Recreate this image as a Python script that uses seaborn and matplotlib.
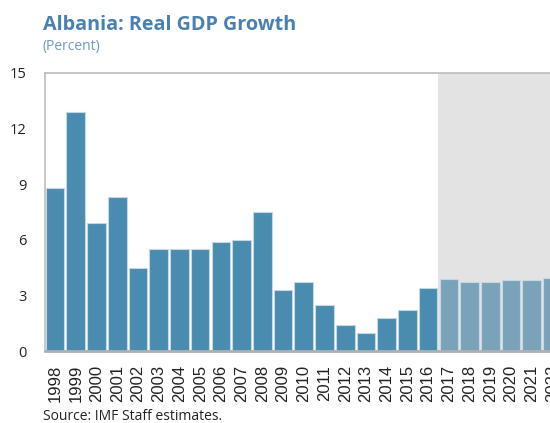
import matplotlib
matplotlib.use("Agg")
import matplotlib.pyplot as plt
import seaborn as sns
import pandas as pd

# Real GDP growth, percent
years = [str(y) for y in range(1998, 2023)]
growth = [8.8, 12.9, 6.9, 8.3, 4.5, 5.5, 5.5, 5.5, 5.9, 6.0, 7.5,
          3.3, 3.7, 2.5, 1.4, 1.0, 1.8, 2.2, 3.4,
          3.9, 3.7, 3.75, 3.85, 3.85, 3.95]
first_projection = "2017"
yticks = [0, 3, 6, 9, 12, 15]

period = ["Projection" if int(y) >= int(first_projection) else "Actual" for y in years]
df = pd.DataFrame({"year": years, "growth": growth, "period": period})

sns.set_theme(style="white")
plt.rcParams["font.family"] = ["Open Sans", "DejaVu Sans"]

fig = plt.figure(figsize=(5.5, 4.23), dpi=100)
ax = fig.add_axes([0.0813, 0.170, 0.942, 0.658])

# shaded projection period
start = years.index(first_projection) - 0.5
ax.axvspan(start, len(years) - 0.5, color="#e3e3e3", zorder=0, lw=0)

sns.barplot(data=df, x="year", y="growth", hue="period", dodge=False,
            palette={"Actual": "#4a8bb0", "Projection": "#7aa3ba"},
            saturation=1, width=0.9, edgecolor="#c4d8e4", linewidth=0.8,
            legend=False, ax=ax, zorder=2)

ax.set_xlim(-0.5, len(years) - 0.5)
ax.set_ylim(0, 15)
ax.set_yticks(yticks)
ax.set_xlabel("")
ax.set_ylabel("")

for side in ["left", "top", "right"]:
    ax.spines[side].set_color("#bdbdbd")
    ax.spines[side].set_linewidth(1.2)
ax.spines["bottom"].set_color("#b0b0b0")
ax.spines["bottom"].set_linewidth(2.0)
ax.spines["bottom"].set_zorder(3)

ax.tick_params(axis="y", direction="in", length=4, width=1, color="#c0c0c0",
               pad=13, labelsize=10.5, labelcolor="#222222")
ax.tick_params(axis="x", length=0, pad=10, labelsize=12, labelcolor="#222222")
for lbl in ax.get_yticklabels():
    lbl.set_fontfamily(["Open Sans", "DejaVu Sans"])
for lbl in ax.get_xticklabels():
    lbl.set_rotation(90)
    lbl.set_fontfamily(["Liberation Sans Narrow", "Liberation Sans", "DejaVu Sans"])

fig.text(0.078, 0.930, "Albania: Real GDP Growth", fontsize=14.2, fontweight="bold",
         color="#4a80b0", va="baseline", ha="left")
fig.text(0.078, 0.882, "(Percent)", fontsize=10, color="#6b9ac4",
         va="baseline", ha="left")
fig.text(0.078, 0.006, "Source: IMF Staff estimates.", fontsize=10,
         color="#222222", va="baseline", ha="left")

fig.savefig("out.png", dpi=100)
